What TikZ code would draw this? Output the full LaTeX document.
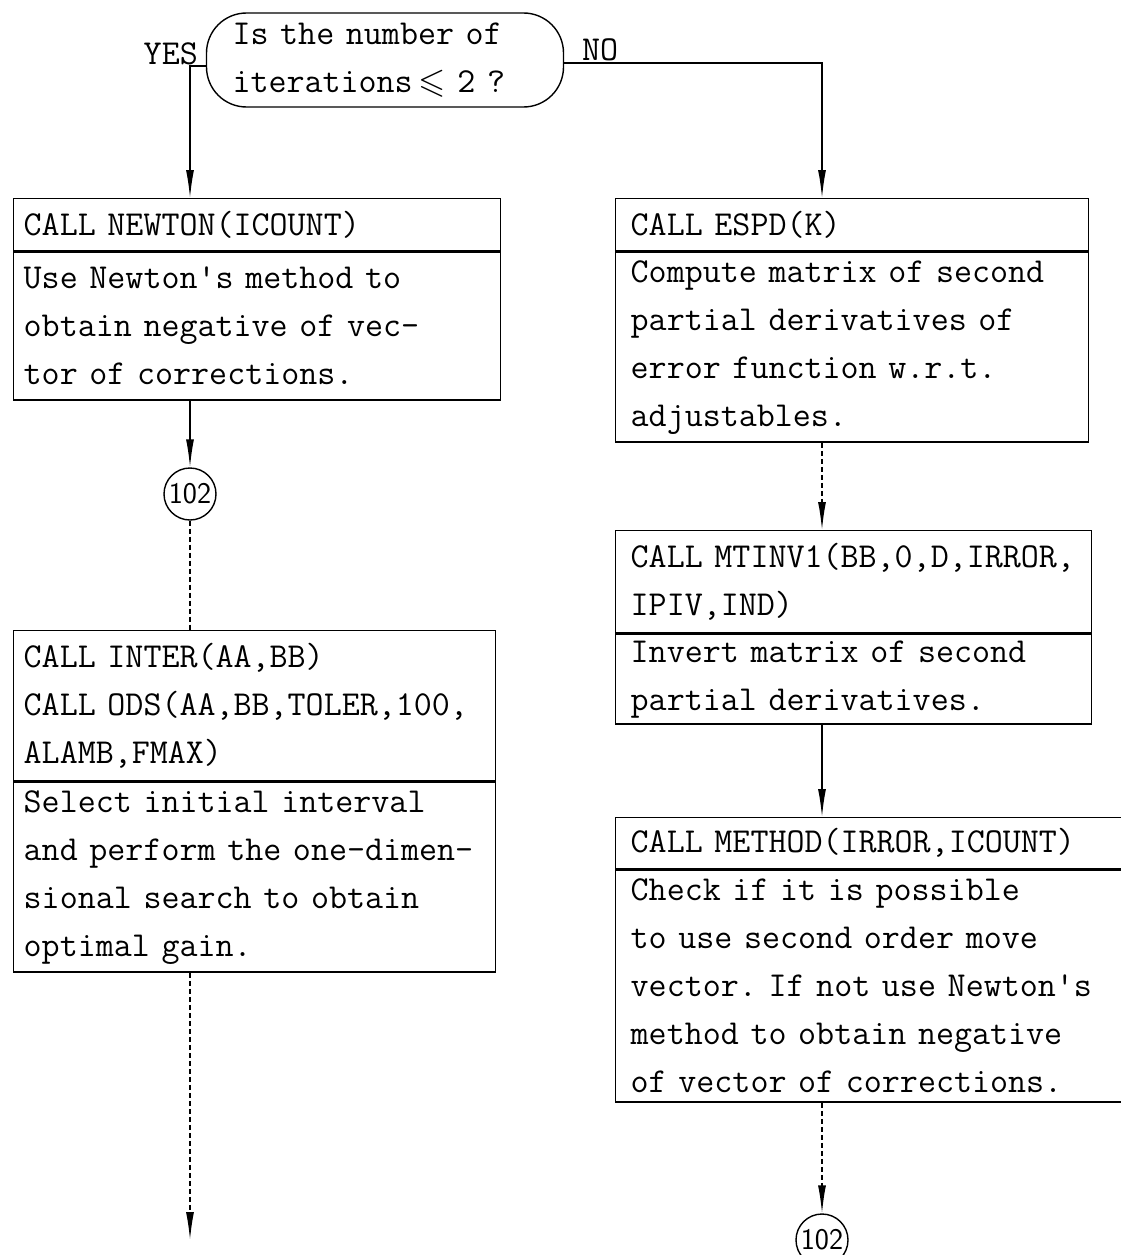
\documentclass[tikz,border=0pt]{standalone}
\usepackage{amsmath,amssymb}
\usetikzlibrary{positioning,arrows.meta}
\frenchspacing

\begin{document}
\begin{tikzpicture}[
  x=1pt,y=-1pt,
  node distance=0pt,
  part/.style={draw,line width=1.4pt,align=left,anchor=north west,inner xsep=10pt,inner ysep=0pt,
    font=\fontsize{35}{48}\selectfont\ttfamily},
  rpart/.style={part,inner xsep=15pt},
  test/.style={draw,line width=1.4pt,rounded corners=40pt,align=left,minimum width=357,minimum height=94,
    text width=305pt,inner xsep=26pt,inner ysep=0pt,font=\fontsize{35}{48}\selectfont\ttfamily},
  lbl/.style={inner sep=0pt,font=\fontsize{35}{40}\selectfont\ttfamily},
  circ/.style={circle,draw,line width=1.4pt,minimum size=52,inner sep=0pt,font=\fontsize{30}{32}\selectfont\sffamily},
  link/.style={line width=1.4pt},
  dashline/.style={dash pattern=on 5pt off 3pt},
  conn/.style={link,-{Latex[length=28pt,width=8pt]}}
]
\useasboundingbox (0,0) rectangle (1120,1255);
\coordinate (lcol) at (190,0);
\coordinate (rcol) at (822,0);

\node[test] (dec) at (385,60) {Is the number of\\iterations\,$\leqslant$ 2 ?};
\node[lbl,anchor=base east] (yes) at (198,64) {YES};
\node[lbl,anchor=base west] (no) at (582,61) {NO};

\node[part,text width=467pt,minimum height=52] (newton) at (13,198) {CALL NEWTON(ICOUNT)};
\node[part,below=of newton,text width=467pt,minimum height=148] (newtonb) {Use Newton's method to\\obtain negative of vec-\\tor of corrections.};
\node[circ] (c1) at (190,494) {102};
\node[part,text width=462pt,minimum height=150] (inter) at (13,630) {CALL INTER(AA,BB)\\CALL ODS(AA,BB,TOLER,100,\\ALAMB,FMAX)};
\node[part,below=of inter,text width=462pt,minimum height=190] (interb) {Select initial interval\\and perform the one-dimen-\\sional search to obtain\\optimal gain.};
\coordinate (lend) at (190,1240);

\node[rpart,text width=443pt,minimum height=52] (espd) at (615,198) {CALL ESPD(K)};
\node[rpart,below=of espd,text width=443pt,minimum height=190] (espdb) {Compute matrix of second\\partial derivatives of\\error function w.r.t.\\adjustables.};
\node[rpart,text width=446pt,minimum height=102] (mtinv) at (615,530) {CALL MTINV1(BB,0,D,IRROR,\\IPIV,IND)};
\node[rpart,below=of mtinv,text width=446pt,minimum height=90] (mtinvb) {Invert matrix of second\\partial derivatives.};
\node[rpart,text width=484pt,minimum height=51] (method) at (615,817) {CALL METHOD(IRROR,ICOUNT)};
\node[rpart,below=of method,text width=484pt,minimum height=232] (methodb) {Check if it is possible\\to use second order move\\vector. If not use Newton's\\method to obtain negative\\of vector of corrections.};
\node[circ] (c2) at (822,1240) {102};

\draw[conn] ([yshift=-6pt]dec.west) -| (lcol |- newton.north);
\draw[conn] ([yshift=-3pt]dec.east) -| (rcol |- espd.north);
\draw[conn] (lcol |- newtonb.south) -- (c1);
\draw[link,dashline] (c1) -- (lcol |- inter.north);
\draw[conn,dashline] (lcol |- interb.south) -- (lend);
\draw[conn,dashline] (rcol |- espdb.south) -- (rcol |- mtinv.north);
\draw[conn] (rcol |- mtinvb.south) -- (rcol |- method.north);
\draw[conn,dashline] (rcol |- methodb.south) -- (c2);
\end{tikzpicture}
\end{document}
